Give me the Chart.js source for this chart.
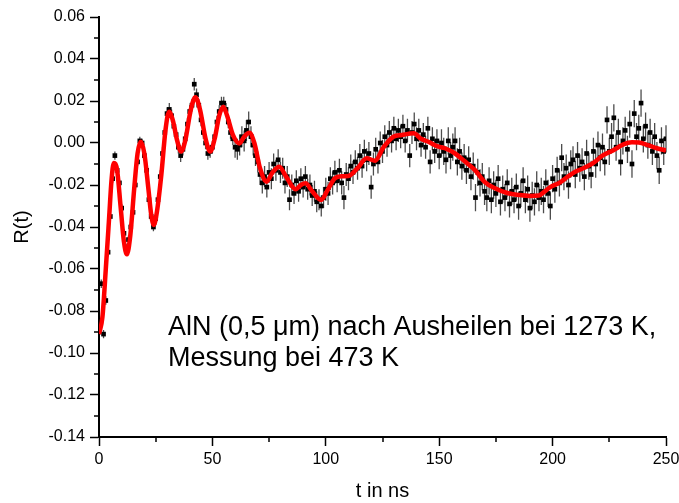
<!DOCTYPE html>
<html>
<head>
<meta charset="utf-8">
<script src="https://cdn.jsdelivr.net/npm/chart.js@4.4.0/dist/chart.umd.min.js"></script>
<style>
html, body { margin: 0; padding: 0; background: #fff; }
#wrap { width: 679px; height: 503px; }
</style>
</head>
<body>
<div id="wrap"><canvas id="rtChart" width="679" height="503"></canvas></div>
<script>
// measured points (t in ns, R(t))
const times = [
    0,1,2,3,4,5,6,7,8,9,10,11,12,13,14,15,16,17,18,19,20,21,22,23,24,25,26,27,28,29,
    30,31,32,33,34,35,36,37,38,39,40,41,42,43,44,45,46,47,48,49,50,51,52,53,54,55,56,57,58,59,
    60,61,62,63,64,65,66,67,68,69,70,71,72,73,74,75,76,77,78,79,80,81,82,83,84,85,86,87,88,89,
    90,91,92,93,94,95,96,97,98,99,100,101,102,103,104,105,106,107,108,109,110,111,112,113,114,115,116,117,118,119,
    120,121,122,123,124,125,126,127,128,129,130,131,132,133,134,135,136,137,138,139,140,141,142,143,144,145,146,147,148,149,
    150,151,152,153,154,155,156,157,158,159,160,161,162,163,164,165,166,167,168,169,170,171,172,173,174,175,176,177,178,179,
    180,181,182,183,184,185,186,187,188,189,190,191,192,193,194,195,196,197,198,199,200,201,202,203,204,205,206,207,208,209,
    210,211,212,213,214,215,216,217,218,219,220,221,222,223,224,225,226,227,228,229,230,231,232,233,234,235,236,237,238,239,
    240,241,242,243,244,245,246,247,248,249,250
];
const rValues = [
    -0.090,-0.067,-0.091,-0.075,-0.052,-0.035,-0.017,-0.006,-0.013,-0.019,
    -0.031,-0.043,-0.050,-0.046,-0.040,-0.033,-0.020,-0.009,0.001,0.000,
    -0.006,-0.013,-0.027,-0.035,-0.040,-0.036,-0.027,-0.016,-0.005,0.005,
    0.014,0.016,0.013,0.008,0.004,-0.002,-0.006,-0.003,0.002,0.009,
    0.015,0.018,0.028,0.023,0.018,0.011,0.005,0.000,-0.005,-0.004,
    -0.002,0.003,0.010,0.015,0.019,0.019,0.016,0.010,0.005,0.002,
    -0.002,-0.003,-0.001,0.003,0.001,0.006,0.010,0.003,-0.001,-0.006,
    -0.009,-0.015,-0.019,-0.016,-0.021,-0.014,-0.017,-0.010,-0.013,-0.008,
    -0.014,-0.012,-0.019,-0.016,-0.027,-0.020,-0.024,-0.018,-0.023,-0.017,
    -0.021,-0.016,-0.022,-0.020,-0.025,-0.023,-0.028,-0.027,-0.030,-0.026,
    -0.022,-0.024,-0.017,-0.019,-0.014,-0.018,-0.013,-0.019,-0.026,-0.015,
    -0.017,-0.011,-0.014,-0.009,-0.012,-0.006,-0.011,-0.004,-0.008,-0.005,
    -0.021,-0.010,-0.003,-0.009,0.000,-0.004,0.003,-0.001,0.005,0.001,
    0.007,0.002,0.006,0.003,0.008,0.001,0.006,-0.006,0.005,0.009,
    0.002,0.006,-0.001,0.004,-0.002,0.007,-0.009,0.002,-0.004,0.001,
    -0.006,0.000,-0.004,-0.008,0.001,-0.006,-0.002,0.001,-0.009,-0.004,
    -0.011,-0.007,-0.013,-0.008,-0.016,-0.011,-0.026,-0.014,-0.019,-0.016,
    -0.023,-0.026,-0.018,-0.027,-0.020,-0.024,-0.017,-0.028,-0.022,-0.026,
    -0.019,-0.029,-0.023,-0.027,-0.021,-0.030,-0.024,-0.018,-0.027,-0.022,
    -0.031,-0.025,-0.028,-0.020,-0.026,-0.023,-0.027,-0.019,-0.024,-0.030,
    -0.017,-0.022,-0.013,-0.019,-0.007,-0.016,-0.012,-0.020,-0.010,-0.008,
    -0.015,-0.006,-0.012,-0.009,-0.016,-0.005,-0.011,-0.015,-0.004,-0.010,
    -0.001,-0.007,-0.002,-0.009,0.011,-0.004,0.003,0.012,-0.002,0.005,
    -0.009,0.001,0.006,-0.003,0.009,-0.010,0.014,0.003,0.007,0.019,
    0.002,0.008,-0.001,0.005,-0.004,0.003,-0.006,-0.013,0.001,-0.004,
    0.002
];
// error bar half-length, by time band (band starts at errEdges[i])
const errEdges = [0, 25, 60, 100, 150];
const errSizes = [0.002, 0.003, 0.005, 0.0055, 0.0065];

// fitted curve
const fitTimes = [
    0,1.5,3,4.5,5.5,6.5,8,9.5,11,12.3,13.8,15.5,17,18.4,20,21.8,23,24.2,25.5,27.5,
    29.3,30.9,32.5,34.5,36.2,38,40.5,42.5,44.5,47,49,51,53,54.8,56.5,59,61.9,64,66.3,68.5,
    71,73.9,76.5,79.5,82.5,86.7,89,91.1,94,97.9,101,104,107,110,114,118,121.7,125.5,129.8,133.5,
    138.8,142,145.2,149,152.5,157,161,165.8,170,174.6,180,185.5,190,194,196,199,203,207,210,214,
    218,222,227,231,235,238,242,246,250
];
const fitValues = [
    -0.091,-0.083,-0.060,-0.035,-0.018,-0.0095,-0.013,-0.030,-0.047,-0.053,
    -0.044,-0.022,-0.005,0.0006,-0.005,-0.022,-0.034,-0.039,-0.033,-0.015,
    0.006,0.0149,0.011,0.001,-0.0041,0.001,0.016,0.0218,0.016,0.002,
    -0.0041,0.002,0.013,0.0173,0.013,0.004,-0.0002,0.003,0.0049,0.0,
    -0.012,-0.0184,-0.014,-0.0113,-0.016,-0.022,-0.020,-0.0192,-0.023,-0.0271,
    -0.022,-0.0168,-0.0158,-0.0157,-0.012,-0.0073,-0.0084,-0.002,0.003,0.0038,
    0.0046,0.002,0.0006,-0.0015,-0.0025,-0.005,-0.0085,-0.0129,-0.0185,-0.0216,
    -0.0238,-0.0248,-0.0252,-0.025,-0.0235,-0.021,-0.019,-0.0158,-0.0137,-0.0118,
    -0.0095,-0.006,-0.0033,-0.0008,0.0003,0.0002,-0.001,-0.0025,-0.0035
];

const xMinorTicks = [25, 75, 125, 175, 225];
const yMinorTicks = [0.05, 0.03, 0.01, -0.01, -0.03, -0.05, -0.07, -0.09, -0.11, -0.13];
const noteLines = ['AlN (0,5 \u03bcm) nach Ausheilen bei 1273 K,', 'Messung bei 473 K'];

const FONT = "'Liberation Sans', Arial, sans-serif";

function errFor(t) {
    let e = errSizes[0];
    for (let i = 0; i < errEdges.length; i++) {
        if (t >= errEdges[i]) e = errSizes[i];
    }
    return e;
}

const points = times.map((t, i) => ({ x: t, y: rValues[i] }));
const fitPoints = fitTimes.map((t, i) => ({ x: t, y: fitValues[i] }));

// vertical error bars under the points
const errorBars = {
    id: 'errorBars',
    beforeDatasetsDraw(chart) {
        const ctx = chart.ctx;
        const xs = chart.scales.x, ys = chart.scales.y;
        ctx.save();
        ctx.strokeStyle = 'rgba(0,0,0,0.7)';
        ctx.lineWidth = 1.3;
        ctx.beginPath();
        points.forEach(p => {
            const e = errFor(p.x);
            const px = xs.getPixelForValue(p.x);
            ctx.moveTo(px, ys.getPixelForValue(p.y + e));
            ctx.lineTo(px, ys.getPixelForValue(p.y - e));
        });
        ctx.stroke();
        ctx.restore();
    }
};

// minor ticks and the text note
const extras = {
    id: 'extras',
    afterDraw(chart) {
        const ctx = chart.ctx;
        const xs = chart.scales.x, ys = chart.scales.y;
        const area = chart.chartArea;
        ctx.save();
        ctx.strokeStyle = '#000';
        ctx.lineWidth = 1.5;
        ctx.beginPath();
        xMinorTicks.forEach(v => {
            const px = Math.round(xs.getPixelForValue(v));
            ctx.moveTo(px, area.bottom);
            ctx.lineTo(px, area.bottom + 5);
        });
        yMinorTicks.forEach(v => {
            const py = Math.round(ys.getPixelForValue(v));
            ctx.moveTo(area.left, py);
            ctx.lineTo(area.left - 5, py);
        });
        ctx.stroke();

        ctx.fillStyle = '#000';
        ctx.font = '27px ' + FONT;
        ctx.textBaseline = 'alphabetic';
        ctx.textAlign = 'left';
        const tx = xs.getPixelForValue(30.4);
        ctx.fillText(noteLines[0], tx, ys.getPixelForValue(-0.0915));
        ctx.fillText(noteLines[1], tx, ys.getPixelForValue(-0.1060));
        ctx.restore();
    }
};

const ctx = document.getElementById('rtChart').getContext('2d');
new Chart(ctx, {
    data: {
        datasets: [{
            type: 'line',
            label: 'Fit',
            data: fitPoints,
            borderColor: '#ff0000',
            borderWidth: 4.5,
            pointRadius: 0,
            cubicInterpolationMode: 'monotone',
            order: 0
        }, {
            type: 'scatter',
            label: 'R(t)',
            data: points,
            pointStyle: 'rect',
            pointRadius: 3.3,
            backgroundColor: '#000',
            borderWidth: 0,
            order: 1
        }]
    },
    options: {
        responsive: false,
        animation: false,
        layout: { padding: { left: 0, right: 13, top: 17, bottom: 0 } },
        plugins: {
            legend: { display: false },
            tooltip: { enabled: false }
        },
        scales: {
            x: {
                type: 'linear',
                min: 0,
                max: 250,
                ticks: {
                    stepSize: 50,
                    color: '#000',
                    font: { family: FONT, size: 16 },
                    padding: 4,
                    maxRotation: 0
                },
                grid: { display: true, drawOnChartArea: false, tickLength: 9, tickColor: '#000', tickWidth: 1.5 },
                border: { color: '#000', width: 2 },
                title: { display: true, text: 't in ns', color: '#000', font: { family: FONT, size: 20 }, padding: { top: 6, bottom: 0 } },
                afterFit: s => { s.height = 66; s.paddingRight = 0; s.paddingLeft = 0; }
            },
            y: {
                min: -0.14,
                max: 0.06,
                ticks: {
                    stepSize: 0.02,
                    color: '#000',
                    font: { family: FONT, size: 16 },
                    padding: 5,
                    callback: v => Number(v).toFixed(2)
                },
                grid: { display: true, drawOnChartArea: false, tickLength: 9, tickColor: '#000', tickWidth: 1.5 },
                border: { color: '#000', width: 2 },
                title: { display: true, text: 'R(t)', color: '#000', font: { family: FONT, size: 20 }, padding: { top: 10, bottom: 0 } },
                afterFit: s => { s.width = 99; s.paddingTop = 0; s.paddingBottom = 0; }
            }
        }
    },
    plugins: [errorBars, extras]
});
</script>
</body>
</html>
